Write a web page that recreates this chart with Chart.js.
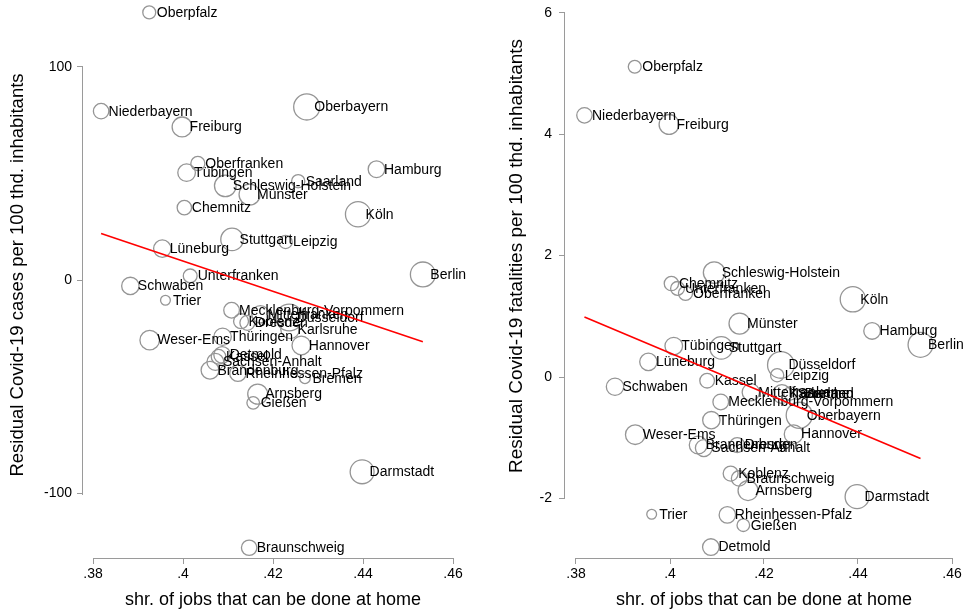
<!DOCTYPE html>
<html>
<head>
<meta charset="utf-8">
<script src="https://cdn.jsdelivr.net/npm/chart.js@4.4.0/dist/chart.umd.min.js"></script>
<style>
    html, body { margin: 0; padding: 0; background: #fff; }
    #wrap { position: relative; width: 963px; height: 612px; overflow: hidden; }
    canvas { position: absolute; top: 0; }
    #cases-chart { left: 0; }
    #deaths-chart { left: 481px; }
</style>
</head>
<body>
<div id="wrap">
    <canvas id="cases-chart" width="481" height="612"></canvas>
    <canvas id="deaths-chart" width="482" height="612"></canvas>
</div>
<script>
// ===== DATA =====

const regions = ['Oberpfalz', 'Niederbayern', 'Freiburg', 'Oberbayern', 'Oberfranken', 'Tübingen', 'Hamburg', 'Saarland',
    'Schleswig-Holstein', 'Münster', 'Chemnitz', 'Köln', 'Stuttgart', 'Leipzig', 'Lüneburg', 'Berlin', 'Unterfranken',
    'Schwaben', 'Trier', 'Mecklenburg-Vorpommern', 'Mittelfranken', 'Düsseldorf', 'Koblenz', 'Dresden', 'Karlsruhe',
    'Thüringen', 'Weser-Ems', 'Hannover', 'Kassel', 'Detmold', 'Sachsen-Anhalt', 'Brandenburg', 'Rheinhessen-Pfalz',
    'Bremen', 'Arnsberg', 'Gießen', 'Darmstadt', 'Braunschweig'];

const jobShare = [0.3925, 0.3818, 0.3998, 0.4275, 0.4033, 0.4008, 0.4430, 0.4256,
    0.4094, 0.4148, 0.4003, 0.4389, 0.4109, 0.4228, 0.3954, 0.4533, 0.4016,
    0.3883, 0.3961, 0.4108, 0.4172, 0.4236, 0.4129, 0.4143, 0.4238,
    0.4088, 0.3926, 0.4263, 0.4079, 0.4087, 0.4072, 0.4060, 0.4122,
    0.4271, 0.4166, 0.4156, 0.4398, 0.4147];

const caseResidual = [125.5, 79.2, 71.8, 81.2, 54.7, 50.4, 52.0, 46.4,
    44.2, 40.1, 34.0, 30.9, 19.1, 17.9, 14.8, 2.7, 2.0,
    -2.7, -9.4, -14.1, -16.0, -17.5, -19.2, -20.0, -23.0,
    -26.5, -28.1, -30.6, -35.9, -35.0, -38.3, -42.2, -43.6,
    -46.0, -53.4, -57.5, -89.8, -125.4];

const deathResidual = [5.11, 4.31, 4.16, -0.63, 1.38, 0.51, 0.76, -0.27,
    1.72, 0.88, 1.54, 1.28, 0.48, 0.03, 0.25, 0.53, 1.46,
    -0.16, -2.26, -0.41, -0.25, 0.20, -1.59, -1.12, -0.28,
    -0.71, -0.95, -0.94, -0.06, -2.80, -1.17, -1.12, -2.27,
    -0.28, -1.87, -2.44, -1.97, -1.67];

// population in millions (marker weight)
const population = [1.05, 1.5, 2.5, 4.3, 1.25, 1.95, 1.75, 1.1,
    2.95, 2.8, 1.3, 4.0, 3.2, 1.1, 1.9, 3.9, 1.2,
    1.9, 0.6, 1.55, 1.9, 4.5, 1.4, 1.4, 2.2,
    1.9, 2.4, 2.2, 1.35, 1.75, 1.8, 2.0, 1.7,
    0.7, 2.5, 1.0, 3.6, 1.5];

const fitX = [0.3818, 0.4533];
const fitCases = [21.9, -28.9];
const fitDeaths = [0.99, -1.34];

const xTicks = [0.38, 0.40, 0.42, 0.44, 0.46];
const xTickLabels = ['.38', '.4', '.42', '.44', '.46'];
const caseTicks = [-100, 0, 100];
const caseTickLabels = ['-100', '0', '100'];
const deathTicks = [-2, 0, 2, 4, 6];
const deathTickLabels = ['-2', '0', '2', '4', '6'];

// ===== STYLE =====

const FONT = '"Liberation Sans", Arial, sans-serif';
const AXIS_GRAY = '#9a9a9a';
const MARKER_GRAY = '#959595';

Chart.defaults.font.family = FONT;
Chart.defaults.color = '#000';

const markerRadius = (pop) => 6.3 * Math.sqrt(pop);

// ===== PLUGINS =====

// region names next to the circles (drawn before the fit line)
const pointLabels = {
    id: 'pointLabels',
    afterDatasetDraw(chart, args) {
        if (args.index !== 0) return;
        const ctx = chart.ctx;
        ctx.save();
        ctx.font = '14px ' + FONT;
        ctx.fillStyle = '#000';
        ctx.textBaseline = 'middle';
        ctx.textAlign = 'left';
        args.meta.data.forEach((pt, i) => {
            ctx.fillText(regions[i], pt.x + 7.5, pt.y + 0.5);
        });
        ctx.restore();
    }
};

// stata-like axis lines spanning first to last tick + axis titles
const axesDecor = {
    id: 'axesDecor',
    afterDraw(chart, args, opts) {
        const { ctx, chartArea, scales: { x, y } } = chart;
        ctx.save();
        ctx.strokeStyle = AXIS_GRAY;
        ctx.lineWidth = 1;

        const yTop = y.getPixelForValue(opts.yTicks[opts.yTicks.length - 1]);
        const yBot = y.getPixelForValue(opts.yTicks[0]);
        const ax = Math.round(chartArea.left) - 0.5;
        ctx.beginPath();
        ctx.moveTo(ax, Math.round(yTop));
        ctx.lineTo(ax, Math.round(yBot) + 1);
        ctx.stroke();

        const xL = x.getPixelForValue(xTicks[0]);
        const xR = x.getPixelForValue(xTicks[xTicks.length - 1]);
        const ay = Math.round(chartArea.bottom) + 0.5;
        ctx.beginPath();
        ctx.moveTo(Math.round(xL), ay);
        ctx.lineTo(Math.round(xR) + 1, ay);
        ctx.stroke();

        ctx.fillStyle = '#000';
        ctx.font = '18px ' + FONT;
        ctx.textAlign = 'center';
        ctx.textBaseline = 'middle';
        ctx.fillText('shr. of jobs that can be done at home', (xL + xR) / 2, opts.xTitleY);

        ctx.font = opts.yTitleSize + 'px ' + FONT;
        ctx.translate(opts.yTitleX, opts.yTitleY);
        ctx.rotate(-Math.PI / 2);
        ctx.fillText(opts.yTitle, 0, 0);
        ctx.restore();
    }
};

// ===== CHART BUILDER =====

const buildChart = (canvasId, values, fitValues, cfg) => {
    const ctx = document.getElementById(canvasId);
    const points = regions.map((name, i) => ({ x: jobShare[i], y: values[i], r: markerRadius(population[i]) }));
    const fitLine = fitX.map((v, i) => ({ x: v, y: fitValues[i] }));

    return new Chart(ctx, {
        type: 'bubble',
        data: {
            datasets: [
                {
                    data: points,
                    backgroundColor: 'rgba(0,0,0,0)',
                    borderColor: MARKER_GRAY,
                    borderWidth: 1.3,
                    clip: false,
                    order: 1
                },
                {
                    type: 'line',
                    data: fitLine,
                    borderColor: '#ff0000',
                    borderWidth: 1.6,
                    pointRadius: 0,
                    fill: false,
                    tension: 0,
                    clip: false,
                    order: 0
                }
            ]
        },
        options: {
            responsive: false,
            animation: false,
            devicePixelRatio: 1,
            events: [],
            layout: { autoPadding: false, padding: { top: 3, right: 0, bottom: 0, left: 0 } },
            plugins: {
                legend: { display: false },
                tooltip: { enabled: false },
                axesDecor: {
                    yTicks: cfg.yTicks,
                    yTitle: cfg.yTitle,
                    yTitleX: cfg.yTitleX,
                    yTitleY: cfg.yTitleY,
                    yTitleSize: cfg.yTitleSize,
                    xTitleY: 600
                }
            },
            scales: {
                x: {
                    type: 'linear',
                    position: 'bottom',
                    min: cfg.xMin,
                    max: cfg.xMax,
                    afterBuildTicks: (scale) => { scale.ticks = xTicks.map(v => ({ value: v })); },
                    afterFit: (scale) => {
                        scale.height = 54;
                        scale.paddingLeft = 0;
                        scale.paddingRight = 0;
                    },
                    ticks: {
                        font: { size: 14 },
                        color: '#000',
                        padding: 2,
                        maxRotation: 0,
                        autoSkip: false,
                        callback: (value) => xTickLabels[xTicks.indexOf(value)]
                    },
                    grid: { display: true, drawOnChartArea: false, drawTicks: true, tickLength: 6, color: AXIS_GRAY },
                    border: { display: false }
                },
                y: {
                    type: 'linear',
                    position: 'left',
                    min: cfg.yMin,
                    max: cfg.yMax,
                    afterBuildTicks: (scale) => { scale.ticks = cfg.yTicks.map(v => ({ value: v })); },
                    afterFit: (scale) => {
                        scale.width = cfg.yAxisWidth;
                        scale.paddingTop = 0;
                        scale.paddingBottom = 0;
                    },
                    ticks: {
                        font: { size: 14 },
                        color: '#000',
                        padding: cfg.yPad,
                        autoSkip: false,
                        callback: (value) => cfg.yTickLabels[cfg.yTicks.indexOf(value)]
                    },
                    grid: { display: true, drawOnChartArea: false, drawTicks: true, tickLength: 6, color: AXIS_GRAY },
                    border: { display: false }
                }
            }
        },
        plugins: [pointLabels, axesDecor]
    });
};

// ===== RENDER =====

buildChart('cases-chart', caseResidual, fitCases, {
    xMin: 0.38 - 10 / 4500,
    xMax: 0.38 + 388 / 4500,
    yMin: -130.2,
    yMax: 129.9,
    yTicks: caseTicks,
    yTickLabels: caseTickLabels,
    yAxisWidth: 83,
    yPad: 5,
    yTitle: 'Residual Covid-19 cases per 100 thd. inhabitants',
    yTitleSize: 18.5,
    yTitleX: 18,
    yTitleY: 275
});

buildChart('deaths-chart', deathResidual, fitDeaths, {
    xMin: 0.38 - 11 / 4700,
    xMax: 0.38 + 387 / 4700,
    yMin: -2.98,
    yMax: 6.16,
    yTicks: deathTicks,
    yTickLabels: deathTickLabels,
    yAxisWidth: 84,
    yPad: 7,
    yTitle: 'Residual Covid-19 fatalities per 100 thd. inhabitants',
    yTitleSize: 19,
    yTitleX: 36,
    yTitleY: 256
});
</script>
</body>
</html>
